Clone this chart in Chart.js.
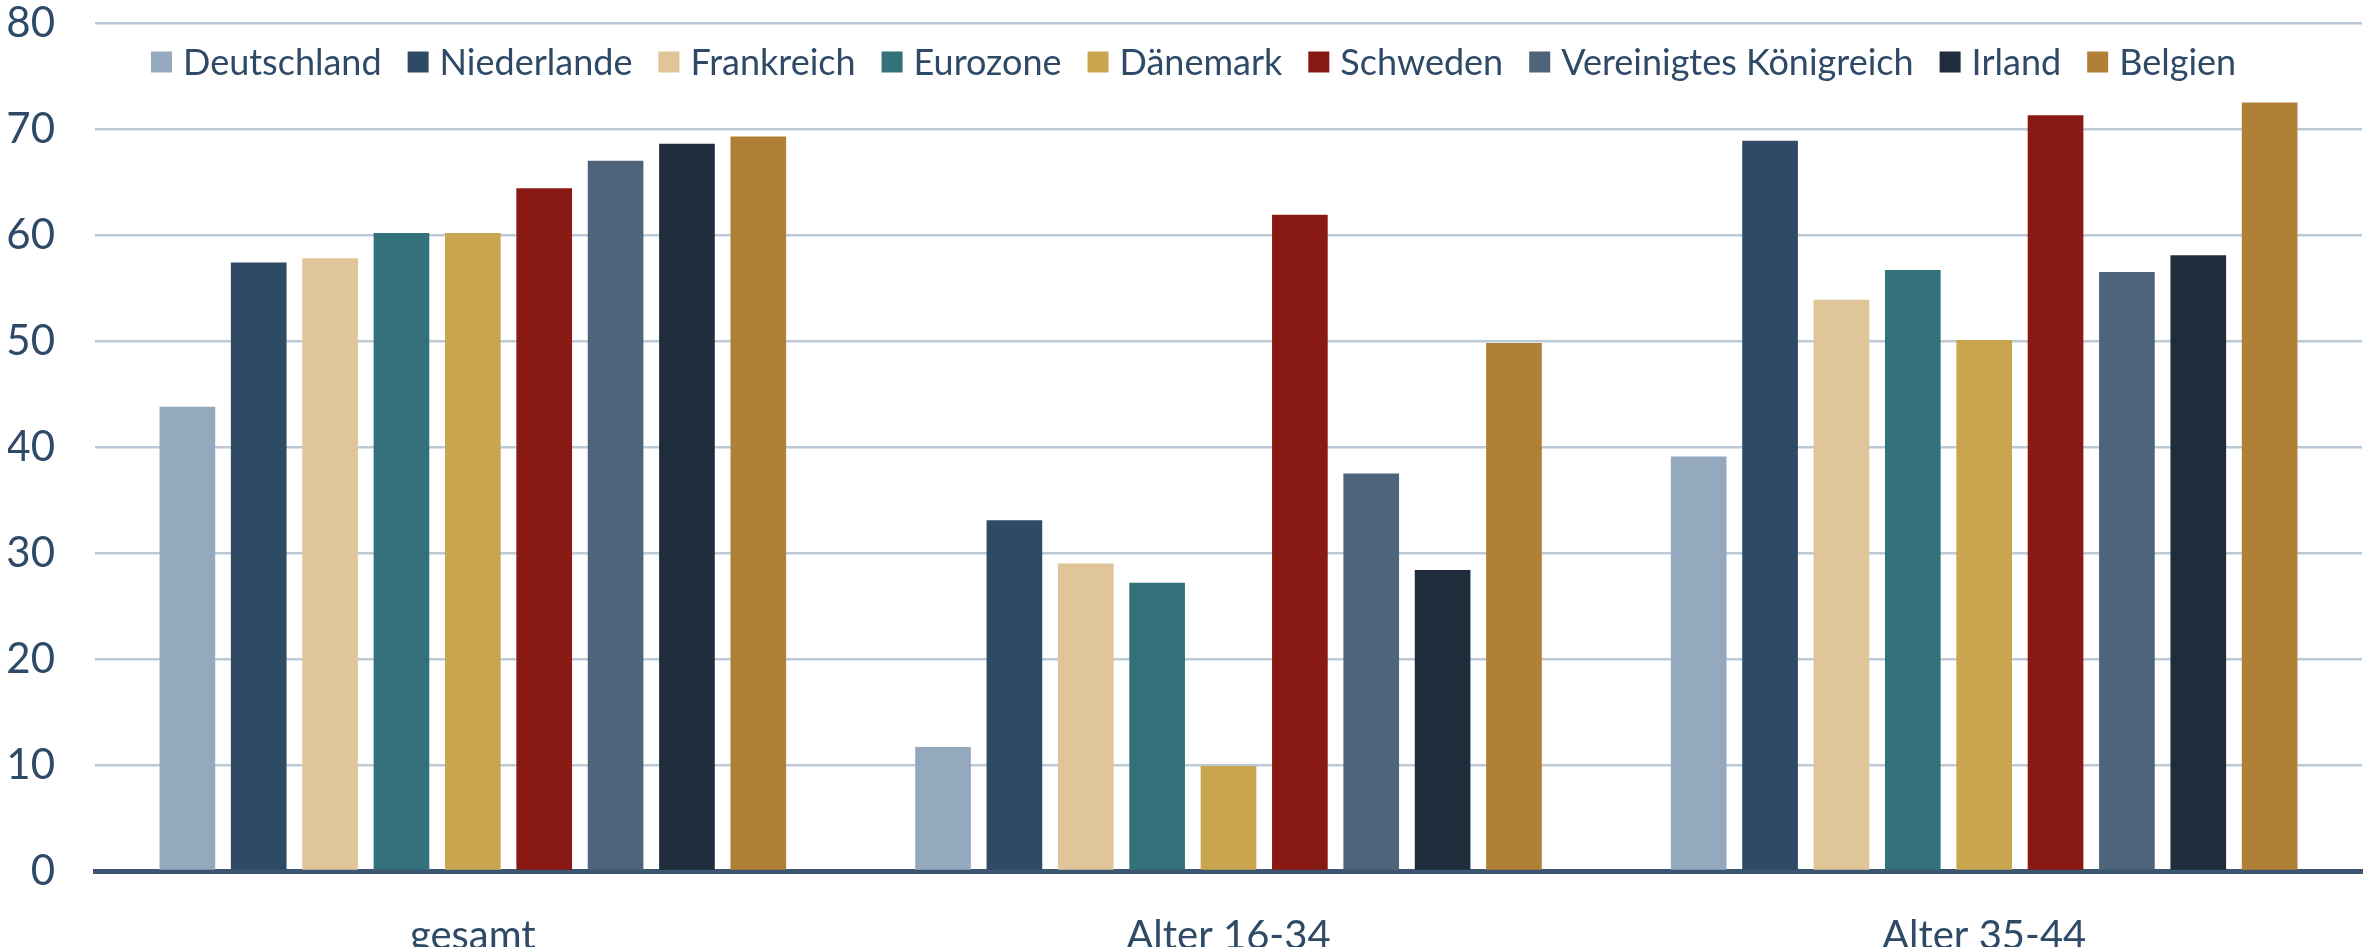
<!DOCTYPE html>
<html>
<head>
<meta charset="utf-8">
<script src="https://cdn.jsdelivr.net/npm/chart.js@4/dist/chart.umd.min.js"></script>
<style>
  html, body { margin: 0; padding: 0; background: #fff; }
  #wrap { width: 2366px; height: 947px; position: relative; }
</style>
</head>
<body>
<div id="wrap"><canvas id="chart"></canvas></div>
<script>
(function () {
  // Kategorien (x-Achse)
  const categories = ['gesamt', 'Alter 16-34', 'Alter 35-44'];

  // Länder / Reihen
  const countries = ['Deutschland', 'Niederlande', 'Frankreich', 'Eurozone', 'Dänemark',
    'Schweden', 'Vereinigtes Königreich', 'Irland', 'Belgien'];

  // Werte je Kategorie, in der Reihenfolge der Länder
  const gesamt = [43.8, 57.4, 57.8, 60.2, 60.2, 64.4, 67.0, 68.6, 69.3];
  const alter1634 = [11.7, 33.1, 29.0, 27.2, 9.9, 61.9, 37.5, 28.4, 49.8];
  const alter3544 = [39.1, 68.9, 53.9, 56.7, 50.1, 71.3, 56.5, 58.1, 72.5];

  const yTicks = [0, 10, 20, 30, 40, 50, 60, 70, 80];

  const colors = ['#94a9bd', '#2e4a65', '#e0c598', '#33727b', '#c9a550',
    '#891913', '#4e647b', '#1e2c3c', '#af8036'];

  const textColor = '#2e4a66';
  const fontFamily = 'Lato, "Open Sans", sans-serif';

  // Legende im Diagrammbereich, einzeilig wie im Original
  const innerLegend = {
    id: 'innerLegend',
    afterDatasetsDraw(chart) {
      const { ctx, chartArea } = chart;
      const box = 21, gap = 11, itemGap = 26;
      const y = chartArea.top + 39;
      ctx.save();
      ctx.font = '36px ' + fontFamily;
      ctx.textBaseline = 'middle';
      let x = chartArea.left + 56;
      chart.data.datasets.forEach((ds) => {
        ctx.fillStyle = ds.backgroundColor;
        ctx.fillRect(x, y - box / 2, box, box);
        x += box + gap;
        ctx.fillStyle = textColor;
        ctx.fillText(ds.label, x, y + 1);
        x += ctx.measureText(ds.label).width + itemGap;
      });
      ctx.restore();
    }
  };

  const datasets = countries.map((name, i) => ({
    label: name,
    data: [gesamt[i], alter1634[i], alter3544[i]],
    backgroundColor: colors[i],
    borderWidth: 0,
    categoryPercentage: 0.85,
    barPercentage: 0.78
  }));

  new Chart(document.getElementById('chart'), {
    type: 'bar',
    data: { labels: categories, datasets },
    plugins: [innerLegend],
    options: {
      responsive: true,
      maintainAspectRatio: false,
      animation: false,
      layout: { padding: { left: 8, right: 4, top: 23, bottom: 0 } },
      plugins: {
        tooltip: { enabled: false },
        legend: { display: false }
      },
      scales: {
        x: {
          grid: { display: false },
          border: { display: true, color: '#3b5572', width: 5 },
          ticks: {
            color: textColor,
            font: { family: fontFamily, size: 40 },
            padding: 33
          },
          afterFit: (scale) => { scale.height = 76; scale.paddingTop = 0; }
        },
        y: {
          min: 0,
          max: 80,
          afterBuildTicks: (axis) => { axis.ticks = yTicks.map((v) => ({ value: v })); },
          afterFit: (scale) => { scale.width = 87; scale.paddingTop = 0; },
          border: { display: false },
          grid: {
            color: '#bccad8',
            lineWidth: 2.5,
            drawTicks: false
          },
          ticks: {
            color: textColor,
            font: { family: fontFamily, size: 42 },
            padding: 40
          }
        }
      }
    }
  });
})();
</script>
</body>
</html>
